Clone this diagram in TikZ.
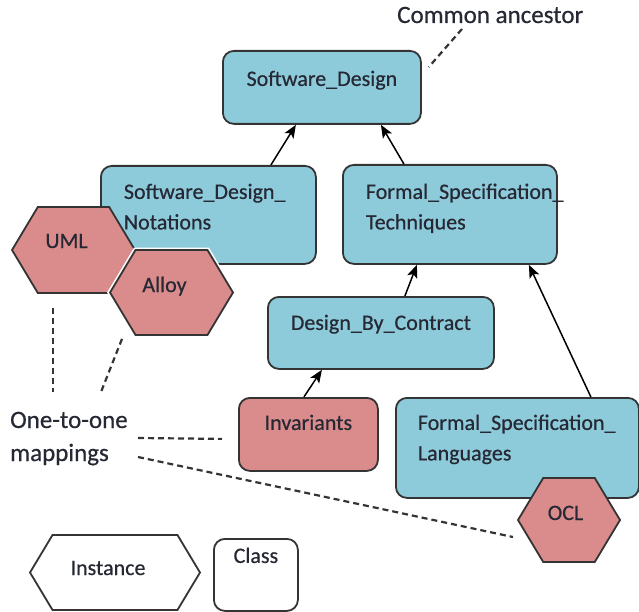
\documentclass[tikz,border=0pt]{standalone}
\usepackage{fontspec}
\setmainfont{Carlito}
\newfontfamily\diagfont{Carlito}[FakeBold=0.5]
\usetikzlibrary{shapes.symbols,arrows.meta,calc}
\definecolor{classfill}{RGB}{141,203,219}
\definecolor{instfill}{RGB}{218,140,140}
\definecolor{edgegray}{RGB}{52,52,52}
\definecolor{ink}{RGB}{38,40,52}
% left-aligned multi-line label; the first baseline is the box baseline
\newcommand\leftlines[3]{\parbox[t]{#1}{\raggedright\leftskip=#2\relax\parindent=0pt\relax #3}}

\begin{document}
\begin{tikzpicture}[x=1pt,y=-1pt,
  boxtext/.style={font=\diagfont\fontsize{22}{30.5}\selectfont, text=ink},
  classbox/.style={boxtext, draw=edgegray, line width=1.8pt, fill=classfill,
    rounded corners=11pt, inner sep=0pt, anchor=north west},
  instbox/.style={classbox, fill=instfill},
  hexnode/.style={boxtext, signal, signal to=east and west, signal pointer angle=118,
    draw=edgegray, line width=1.8pt, fill=instfill, inner sep=0pt},
  isa/.style={draw=black, line width=1.5pt, -{Stealth[length=13pt,width=10.5pt,inset=3pt]}},
  note/.style={draw=edgegray, line width=2.2pt, dash pattern=on 6pt off 4pt},
  annot/.style={font=\diagfont\fontsize{25}{33}\selectfont, text=ink, inner sep=0pt}
]
\fill[white] (0,0) rectangle (639,612);
\useasboundingbox (0,0) rectangle (639,612);

% classes
\node[classbox, text height=35pt, text depth=38pt] (sd) at (222,50)
  {\makebox[198pt]{Software\_Design}};
\node[classbox, text height=33pt, text depth=65pt] (sdn) at (100,165)
  {\leftlines{215pt}{23pt}{Software\_Design\_\\Notations}};
\node[classbox, text height=34pt, text depth=65pt] (fst) at (342,164)
  {\leftlines{214pt}{23pt}{Formal\_Specification\_\\Techniques}};
\node[classbox, text height=33pt, text depth=39pt] (dbc) at (267,296)
  {\makebox[226pt]{Design\_By\_Contract}};
\node[instbox, text height=32pt, text depth=41pt] (inv) at (238,397)
  {\makebox[139pt]{Invariants}};
\node[classbox, text height=32pt, text depth=68pt] (fsl) at (395,397)
  {\leftlines{243pt}{22pt}{Formal\_Specification\_\\Languages}};

% instances
\node[hexnode, minimum width=102pt, minimum height=84pt, text height=10pt, text depth=10pt]
  (ocl) at (569,520) {\hspace*{-7pt}OCL};
\node[hexnode, minimum width=123pt, minimum height=86pt, text height=8pt, text depth=12pt]
  (uml) at (73.5,250) {\hspace*{-14pt}UML};
\node[hexnode, minimum width=123pt, minimum height=85pt, text height=10pt, text depth=11pt,
  preaction={draw=white, line width=5pt}]
  (alloy) at (171.5,292.5) {\hspace*{-14pt}Alloy};

% legend
\node[hexnode, fill=white, minimum width=170pt, minimum height=75pt, text height=12.5pt, text depth=7.5pt]
  (inst) at (115,572.5) {\hspace*{-14pt}Instance};
\node[classbox, fill=white, text height=24pt, text depth=48pt] (cls) at (213,538)
  {\makebox[84pt]{Class}};

% generalisation arrows
\draw[isa] ($(sdn.north)+(62.5,0)$) -- ($(sd.south)+(-26,0)$);
\draw[isa] ($(fst.north)+(-46,0)$) -- ($(sd.south)+(59,0)$);
\draw[isa] ($(dbc.north)+(24,0)$) -- ($(fst.south)+(-33,0)$);
\draw[isa] ($(fsl.north)+(73.5,0)$) -- ($(fst.south)+(79,0)$);
\draw[isa] ($(inv.north)+(-4.5,0)$) -- ($(dbc.south)+(-59,0)$);

% annotations
\node[annot, anchor=base west] (ca) at (397,23) {Common ancestor};
\node[annot, anchor=base west] (map) at (10,428)
  {\parbox[t]{140pt}{\raggedright One-to-one\\mappings}};

\draw[note] ($(ca.base west)+(65,6)$) -- ($(sd.north east)+(7,17)$);
\draw[note] ($(uml.south)+(-20.5,14)$) -- ($(map.base west)+(43,-36)$);
\draw[note] ($(alloy.south)+(-49.5,3)$) -- ($(map.base west)+(91,-36)$);
\draw[note] ($(map.base west)+(128,10)$) -- ($(inv.west)+(-16,4.5)$);
\draw[note] ($(map.base west)+(128,29)$) -- ($(ocl.west)+(-4,17)$);
\end{tikzpicture}
\end{document}
